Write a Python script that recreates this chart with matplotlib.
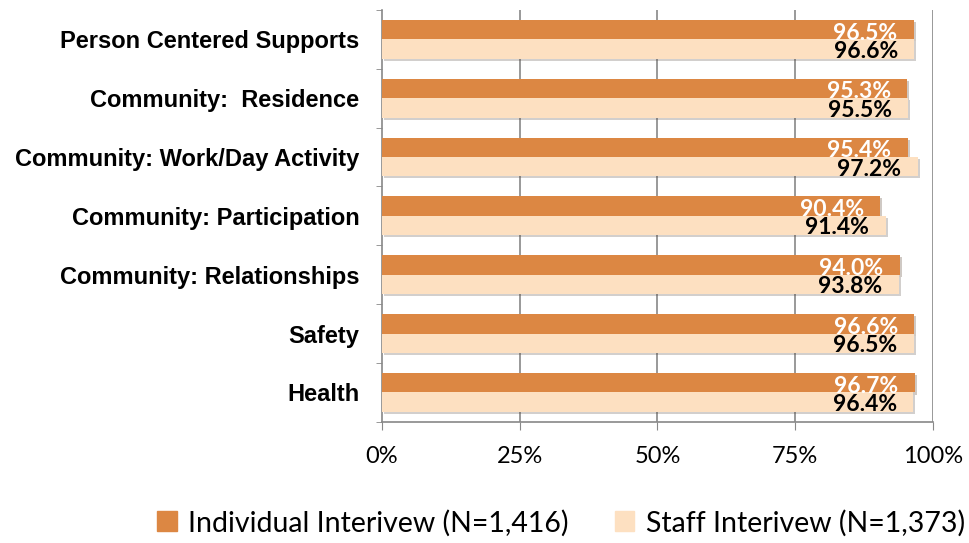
import numpy as np
import matplotlib.pyplot as plt
import matplotlib.patheffects as pe
from matplotlib.patches import Patch

categories = ["Person Centered Supports", "Community:  Residence",
              "Community: Work/Day Activity", "Community: Participation",
              "Community: Relationships", "Safety", "Health"]
individual = [96.5, 95.3, 95.4, 90.4, 94.0, 96.6, 96.7]
staff = [96.6, 95.5, 97.2, 91.4, 93.8, 96.5, 96.4]
xticks = [0, 25, 50, 75, 100]

c_ind = "#DC8743"
c_staff = "#FDE0C1"

fig = plt.figure(figsize=(9.69, 5.43), dpi=100)
ax = fig.add_axes([0.394, 0.223, 0.569, 0.759])

n = len(categories)
y = np.arange(n)[::-1]
h = 0.33
shadow = [pe.SimplePatchShadow(offset=(1.5, -1.5), alpha=0.25), pe.Normal()]
b1 = ax.barh(y + h / 2, individual, height=h, color=c_ind, zorder=3,
             path_effects=shadow)
b2 = ax.barh(y - h / 2, staff, height=h, color=c_staff, zorder=3,
             path_effects=shadow)

# value labels sit just inside the end of each bar
for yi, v in zip(y, individual):
    ax.text(v - 3.0, yi + h / 2 - 0.06, f"{v:.1f}%", ha="right", va="center",
            color="white", fontsize=16.5, fontweight="bold",
            family="Lato", zorder=4)
for yi, v in zip(y, staff):
    ax.text(v - 3.0, yi - h / 2 - 0.04, f"{v:.1f}%", ha="right", va="center",
            color="black", fontsize=16.5, fontweight="bold",
            family="Lato", zorder=4)

ax.set_xlim(0, 100)
ax.set_ylim(-0.5, n - 0.5)
ax.set_xticks(xticks)
ax.set_xticklabels([f"{t}%" for t in xticks], family="Lato", fontsize=17)
ax.tick_params(axis="x", length=6, color="#888888", pad=11)
ax.set_yticks(y)
ax.set_yticklabels(categories, family="Liberation Sans", fontweight="bold",
                   fontsize=17)
ax.set_yticks(np.arange(n + 1) - 0.5, minor=True)
ax.tick_params(axis="y", which="major", length=0, pad=16)
ax.tick_params(axis="y", which="minor", length=4, color="#888888")

for t in xticks[1:]:
    ax.axvline(t, color="#888888", lw=1.2, zorder=1)
ax.spines["top"].set_visible(False)
ax.spines["right"].set_visible(False)
for side in ["left", "bottom"]:
    ax.spines[side].set_color("#888888")
    ax.spines[side].set_linewidth(1.2)

handles = [Patch(color=c_ind), Patch(color=c_staff)]
fig.legend(handles, ["Individual Interivew (N=1,416)", "Staff Interivew (N=1,373)"],
           loc="lower center", bbox_to_anchor=(0.579, -0.035), ncol=2,
           frameon=False, prop={"family": "Lato", "size": 20.5},
           handlelength=0.7, handleheight=0.7, handletextpad=0.4,
           columnspacing=1.6)

fig.savefig("out.png", dpi=100)
